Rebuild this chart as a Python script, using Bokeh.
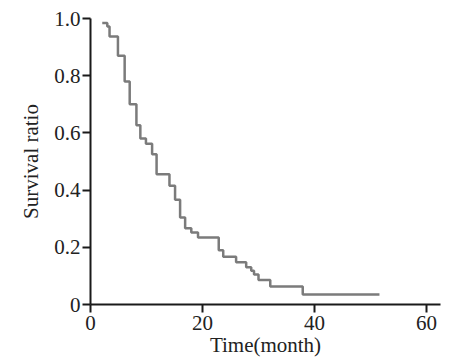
from bokeh.plotting import figure
from bokeh.models import Range1d, FixedTicker
from bokeh.embed import file_html
from bokeh.resources import INLINE

# Kaplan-Meier style survival curve
months = [2.1, 3.0, 3.4, 4.9, 6.1, 7.0, 8.2, 8.9, 9.9, 11.0, 11.8, 14.1, 15.1,
          16.0, 16.9, 18.0, 19.2, 22.9, 23.7, 26.0, 27.8, 28.7, 29.2, 30.0,
          32.1, 37.9, 51.6]
survival = [0.984, 0.972, 0.937, 0.87, 0.78, 0.70, 0.627, 0.58, 0.562, 0.525,
            0.455, 0.415, 0.366, 0.304, 0.267, 0.252, 0.234, 0.19, 0.167,
            0.148, 0.130, 0.118, 0.105, 0.086, 0.063, 0.035, 0.035]

x_ticks = [0, 20, 40, 60]
y_ticks = [0, 0.2, 0.4, 0.6, 0.8, 1.0]
y_tick_labels = ["0", "0.2", "0.4", "0.6", "0.8", "1.0"]

FONT = "Liberation Serif"
TXT = "#222222"

p = figure(width=453, height=359, output_backend="svg", toolbar_location=None,
           x_range=Range1d(0, 62.5), y_range=Range1d(0, 1.0),
           min_border_left=90, min_border_right=13, min_border_top=18,
           min_border_bottom=54)

p.step(months, survival, mode="after", line_color="#7b7b7b", line_width=2.5)

p.grid.visible = False
p.outline_line_color = None
p.background_fill_color = "white"
p.border_fill_color = "white"

for ax in (p.xaxis[0], p.yaxis[0]):
    ax.axis_line_color = "#1a1a1a"
    ax.axis_line_width = 2
    ax.major_tick_line_color = "#1a1a1a"
    ax.major_tick_line_width = 2
    ax.major_tick_out = 8
    ax.major_tick_in = 0
    ax.minor_tick_line_color = None
    ax.major_label_text_font = FONT
    ax.major_label_text_font_size = "21px"
    ax.major_label_text_color = TXT
    ax.axis_label_text_font = FONT
    ax.axis_label_text_font_size = "21px"
    ax.axis_label_text_font_style = "normal"
    ax.axis_label_text_color = TXT

p.xaxis.ticker = FixedTicker(ticks=x_ticks)
p.yaxis.ticker = FixedTicker(ticks=y_ticks)
p.yaxis.major_label_overrides = {t: l for t, l in zip(y_ticks, y_tick_labels)}
p.xaxis.major_label_overrides = {t: str(t) for t in x_ticks}

p.xaxis.axis_label = "Time(month)"
p.yaxis.axis_label = "Survival ratio"
p.xaxis.major_label_standoff = 3
p.xaxis.axis_label_standoff = 0
p.yaxis.major_label_standoff = 2
p.yaxis.axis_label_standoff = 8

open("out.html", "w").write(file_html(p, INLINE))
